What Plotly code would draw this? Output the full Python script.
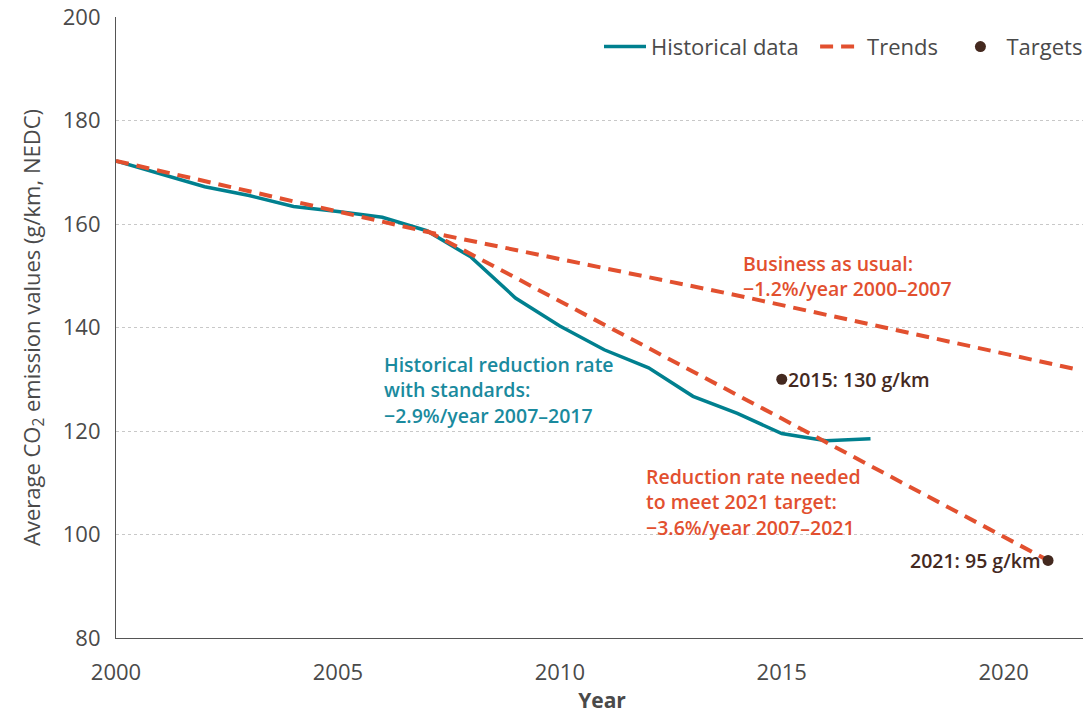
import plotly.graph_objects as go

# historical fleet average, g/km NEDC
hist_years = list(range(2000, 2018))
hist_values = [172.2, 169.7, 167.2, 165.5, 163.4, 162.4, 161.3, 158.7, 153.6,
               145.7, 140.3, 135.7, 132.2, 126.7, 123.4, 119.5, 118.1, 118.5]

# trend lines
bau_years = [2000, 2007, 2014, 2021.7]
bau_values = [172.2, 158.5, 146.2, 131.8]
needed_years = [2007, 2010, 2015, 2021]
needed_values = [158.7, 145.1, 122.4, 95.0]

# targets
target_years = [2015, 2021]
target_values = [130, 95]
target_labels = ["2015: 130 g/km", "2021: 95 g/km"]

TEAL = "#00808f"
RED = "#e2502f"
BROWN = "#44291f"
FONT = "Open Sans"
ANN = dict(size=19.5, weight=600)
PAD = "\u00a0\u00a0"  # extra room between legend entries

fig = go.Figure()
fig.add_trace(go.Scatter(x=hist_years, y=hist_values, mode="lines", name="Historical data" + PAD,
                         line=dict(color=TEAL, width=3.5)))
fig.add_trace(go.Scatter(x=bau_years, y=bau_values, mode="lines", name="Trends" + PAD,
                         line=dict(color=RED, width=4, dash="13px,8px")))
fig.add_trace(go.Scatter(x=needed_years, y=needed_values, mode="lines", showlegend=False,
                         line=dict(color=RED, width=4, dash="13px,8px")))
fig.add_trace(go.Scatter(x=target_years, y=target_values, mode="markers", name="Targets",
                         marker=dict(color=BROWN, size=11)))

# target labels
fig.add_annotation(x=target_years[0], y=target_values[0], text=target_labels[0], showarrow=False,
                   xanchor="left", xshift=4, font=dict(color=BROWN, **ANN))
fig.add_annotation(x=target_years[1], y=target_values[1], text=target_labels[1], showarrow=False,
                   xanchor="right", xshift=-5, font=dict(color=BROWN, **ANN))

fig.add_annotation(x=2014.08, y=150, text="Business as usual:<br>−1.2%/year 2000–2007",
                   showarrow=False, xanchor="left", align="left",
                   font=dict(color=RED, **ANN))
fig.add_annotation(x=2006.0, y=127.9,
                   text="Historical reduction rate<br>with standards:<br>−2.9%/year 2007–2017",
                   showarrow=False, xanchor="left", align="left",
                   font=dict(color="#1a8a9e", **ANN))
fig.add_annotation(x=2011.9, y=106.3,
                   text="Reduction rate needed<br>to meet 2021 target:<br>−3.6%/year 2007–2021",
                   showarrow=False, xanchor="left", align="left",
                   font=dict(color=RED, **ANN))

# page body has an 8px margin, so the figure is shrunk and margins offset by 8
fig.update_layout(
    width=1083, height=706,
    margin=dict(l=108, r=3, t=9, b=76),
    plot_bgcolor="white", paper_bgcolor="white",
    font=dict(family=FONT, size=22, color="#4a4a4a"),
    legend=dict(orientation="h", x=1, xanchor="right", y=0.952, yanchor="middle",
                itemwidth=42, font=dict(size=22, color="#4a4a4a"),
                bgcolor="rgba(0,0,0,0)"),
    xaxis=dict(range=[2000, 2021.9], tickvals=[2000, 2005, 2010, 2015, 2020],
               showgrid=False, showline=True, linecolor="#555", linewidth=1.2,
               zeroline=False, ticks="", tickfont=dict(size=22), ticklabelstandoff=14,
               ticklabeloverflow="allow", automargin=False,
               title=dict(text="<b>Year</b>", font=dict(size=21), standoff=8)),
    yaxis=dict(range=[80, 200], tickvals=[80, 100, 120, 140, 160, 180, 200],
               showgrid=True, gridcolor="#c8c8c8", griddash="dot", gridwidth=1,
               showline=True, linecolor="#555", linewidth=1.2, zeroline=False,
               ticks="", tickfont=dict(size=22), ticklabelstandoff=10,
               ticklabeloverflow="allow", automargin=False,
               title=dict(text="Average CO<sub>2</sub> emission values (g/km, NEDC)",
                          font=dict(size=22), standoff=16)),
)

fig.write_html("out.html")
